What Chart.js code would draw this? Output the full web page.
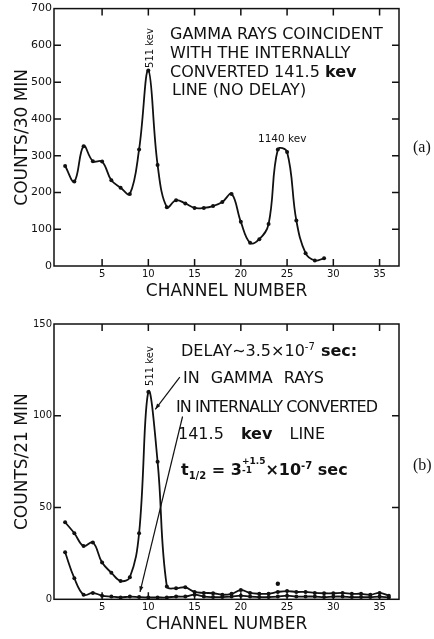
<!DOCTYPE html>
<html>
<head>
<meta charset="utf-8">
<script src="https://cdn.jsdelivr.net/npm/chart.js@4.4.1/dist/chart.umd.min.js"></script>
<style>
  body { margin: 0; width: 434px; height: 639px; position: relative; background: #fff; overflow: hidden; font-family: 'DejaVu Sans', sans-serif; color: #111; }
  .wrap { position: absolute; left: 0; width: 405px; }
  .note { position: absolute; white-space: nowrap; font-size: 16px; line-height: 16px; }
  .note b { font-weight: bold; }
  .small { position: absolute; white-space: nowrap; font-size: 10px; line-height: 10px; }
  .vert { transform: rotate(-90deg); transform-origin: center center; }
  .tag { position: absolute; font-family: 'Liberation Serif', serif; font-size: 16px; }
  sup, sub { font-size: 10px; line-height: 0; }
  .stack { display: inline-block; vertical-align: middle; font-size: 9px; line-height: 9px; text-align: left; margin-top: -10px; }
</style>
</head>
<body>
<div class="wrap" style="top:0;height:300px"><canvas id="chartA"></canvas></div>
<div class="wrap" style="top:300px;height:339px"><canvas id="chartB"></canvas></div>

<!-- panel (a) notes -->
<div class="note" style="left:170px;top:26px">GAMMA RAYS COINCIDENT</div>
<div class="note" style="left:170px;top:45px">WITH THE INTERNALLY</div>
<div class="note" style="left:170px;top:64px">CONVERTED 141.5 <b>kev</b></div>
<div class="note" style="left:172px;top:82px">LINE (NO DELAY)</div>
<div class="small vert" style="left:130px;top:43px;width:40px;text-align:center">511 kev</div>
<div class="small" style="left:258px;top:133px;font-size:10.5px">1140 kev</div>
<div class="tag" style="left:413px;top:138px">(a)</div>

<!-- panel (b) notes -->
<div class="note" style="left:181px;top:343px;word-spacing:1px">DELAY∼3.5×10<sup>-7</sup> <b>sec:</b></div>
<div class="note" style="left:183px;top:370px;word-spacing:6px">IN GAMMA RAYS</div>
<div class="note" style="left:176px;top:399px;letter-spacing:-0.9px">IN INTERNALLY CONVERTED</div>
<div class="note" style="left:178px;top:426px;word-spacing:12px">141.5 <b>kev</b> LINE</div>
<div class="note" style="left:181px;top:462px;font-weight:bold">t<sub>1/2</sub> = 3<span class="stack">+1.5<br>-1</span>×10<sup>-7</sup> sec</div>
<div class="small vert" style="left:130px;top:361px;width:40px;text-align:center">511 kev</div>
<div class="tag" style="left:413px;top:456px">(b)</div>

<script>
// panel (a): coincident, no delay
const channelsA = [1, 2, 3, 4, 5, 6, 7, 8, 9, 10, 11, 12, 13, 14, 15, 16, 17, 18, 19, 20, 21, 22, 23, 24, 25, 26, 27, 28, 29];
const countsA = [272, 230, 326, 285, 284, 233, 213, 196, 317, 532, 275, 160, 179, 170, 158, 158, 163, 174, 196, 120, 63, 73, 114, 317, 310, 124, 35, 15, 21];

// panel (b): delayed
const channelsB = [1, 2, 3, 4, 5, 6, 7, 8, 9, 10, 11, 12, 13, 14, 15, 16, 17, 18, 19, 20, 21, 22, 23, 24, 25, 26, 27, 28, 29, 30, 31, 32, 33, 34, 35, 36];
const gammaB = [42, 36, 29, 31, 20, 14.5, 10, 12, 36, 113, 75, 7, 6, 6.5, 4, 3.5, 3.3, 2.5, 3, 5, 3.5, 3, 3, 4, 4.5, 4, 4, 3.5, 3.3, 3.3, 3.5, 3, 3, 2.5, 3.5, 2];
const convB = [25.6, 11.5, 2.5, 3.5, 2, 1.5, 1, 1.5, 1.2, 1, 1, 1, 1.5, 1.5, 2.5, 1.5, 1.2, 1.2, 1.5, 2, 1.5, 1.2, 1.2, 1.5, 2, 1.5, 1.5, 1.5, 1.2, 1.5, 1.5, 1.2, 1.2, 1.2, 1.5, 1];
const strayB = [{ x: 24, y: 8.5 }];

const xTicks = [5, 10, 15, 20, 25, 30, 35];
const yTicksA = [0, 100, 200, 300, 400, 500, 600, 700];
const yTicksB = [0, 50, 100, 150];

// arrows in (b), given in data units: [fromX, fromY, toX, toY]
const arrowsB = [[13.4, 121, 10.75, 103.5], [13.7, 99.6, 9.1, 4]];

const ink = '#111';
const pts = (xs, ys) => xs.map((x, i) => ({ x: x, y: ys[i] }));

// frame + inward tick marks on all four sides
const framePlugin = {
  id: 'frame',
  afterDatasetsDraw(chart, args, opts) {
    const { ctx, chartArea: a, scales: { x, y } } = chart;
    ctx.save();
    ctx.strokeStyle = ink;
    ctx.lineWidth = 1.5;
    ctx.strokeRect(a.left, a.top, a.right - a.left, a.bottom - a.top);
    const len = 7;
    ctx.beginPath();
    xTicks.forEach(v => {
      const px = x.getPixelForValue(v);
      ctx.moveTo(px, a.bottom); ctx.lineTo(px, a.bottom - len);
      ctx.moveTo(px, a.top); ctx.lineTo(px, a.top + len);
    });
    opts.yTicks.slice(1, -1).forEach(v => {
      const py = y.getPixelForValue(v);
      ctx.moveTo(a.left, py); ctx.lineTo(a.left + len, py);
      ctx.moveTo(a.right, py); ctx.lineTo(a.right - len, py);
    });
    ctx.stroke();

    (opts.arrows || []).forEach(ar => {
      const x1 = x.getPixelForValue(ar[0]), y1 = y.getPixelForValue(ar[1]);
      const x2 = x.getPixelForValue(ar[2]), y2 = y.getPixelForValue(ar[3]);
      ctx.lineWidth = 1.2;
      ctx.beginPath();
      ctx.moveTo(x1, y1); ctx.lineTo(x2, y2);
      ctx.stroke();
      const ang = Math.atan2(y2 - y1, x2 - x1);
      ctx.beginPath();
      ctx.moveTo(x2, y2);
      ctx.lineTo(x2 - 6 * Math.cos(ang - 0.35), y2 - 6 * Math.sin(ang - 0.35));
      ctx.lineTo(x2 - 6 * Math.cos(ang + 0.35), y2 - 6 * Math.sin(ang + 0.35));
      ctx.closePath();
      ctx.fillStyle = ink;
      ctx.fill();
    });
    ctx.restore();
  }
};

function lineSet(data) {
  return {
    data: data,
    borderColor: ink,
    borderWidth: 1.8,
    pointRadius: 2,
    pointBackgroundColor: ink,
    pointBorderWidth: 0,
    tension: 0.4,
    fill: false
  };
}

function makeOptions(cfg) {
  return {
    responsive: true,
    maintainAspectRatio: false,
    animation: false,
    layout: { padding: { top: cfg.padTop, right: 6, left: 0, bottom: 0 } },
    plugins: { legend: { display: false }, tooltip: { enabled: false }, frame: { yTicks: cfg.yTicks, arrows: cfg.arrows } },
    scales: {
      x: {
        type: 'linear', min: -0.2, max: 37.1,
        grid: { display: false, drawTicks: false }, border: { display: false },
        afterBuildTicks: s => { s.ticks = xTicks.map(v => ({ value: v })); },
        afterFit: s => { s.height = cfg.xHeight; },
        ticks: { color: ink, padding: 2, font: { family: 'DejaVu Sans', size: 10 } },
        title: { display: true, text: 'CHANNEL NUMBER', color: ink, padding: { top: 0, bottom: cfg.titlePad }, font: { family: 'DejaVu Sans', size: 17, lineHeight: 1 } }
      },
      y: {
        min: 0, max: cfg.yMax,
        grid: { display: false, drawTicks: false }, border: { display: false },
        afterBuildTicks: s => { s.ticks = cfg.yTicks.map(v => ({ value: v })); },
        afterFit: s => { s.width = 54; },
        ticks: { color: ink, padding: 2, font: { family: 'DejaVu Sans', size: cfg.yFont } },
        title: { display: true, text: cfg.yTitle, color: ink, padding: { top: 14.5, bottom: 0 }, font: { family: 'DejaVu Sans', size: 17, lineHeight: 1 } }
      }
    }
  };
}

new Chart(document.getElementById('chartA'), {
  type: 'line',
  data: { datasets: [lineSet(pts(channelsA, countsA))] },
  options: makeOptions({ padTop: 7.5, yMax: 700, yTicks: yTicksA, xHeight: 34, titlePad: 0, yFont: 11, yTitle: 'COUNTS/30 MIN' }),
  plugins: [framePlugin]
});

new Chart(document.getElementById('chartB'), {
  type: 'line',
  data: {
    datasets: [
      lineSet(pts(channelsB, gammaB)),
      lineSet(pts(channelsB, convB)),
      { data: strayB, showLine: false, pointRadius: 2.2, pointBackgroundColor: ink, pointBorderWidth: 0 }
    ]
  },
  options: makeOptions({ padTop: 24, yMax: 150, yTicks: yTicksB, xHeight: 39.7, titlePad: 5.5, yFont: 10, yTitle: 'COUNTS/21 MIN', arrows: arrowsB }),
  plugins: [framePlugin]
});
</script>
</body>
</html>
